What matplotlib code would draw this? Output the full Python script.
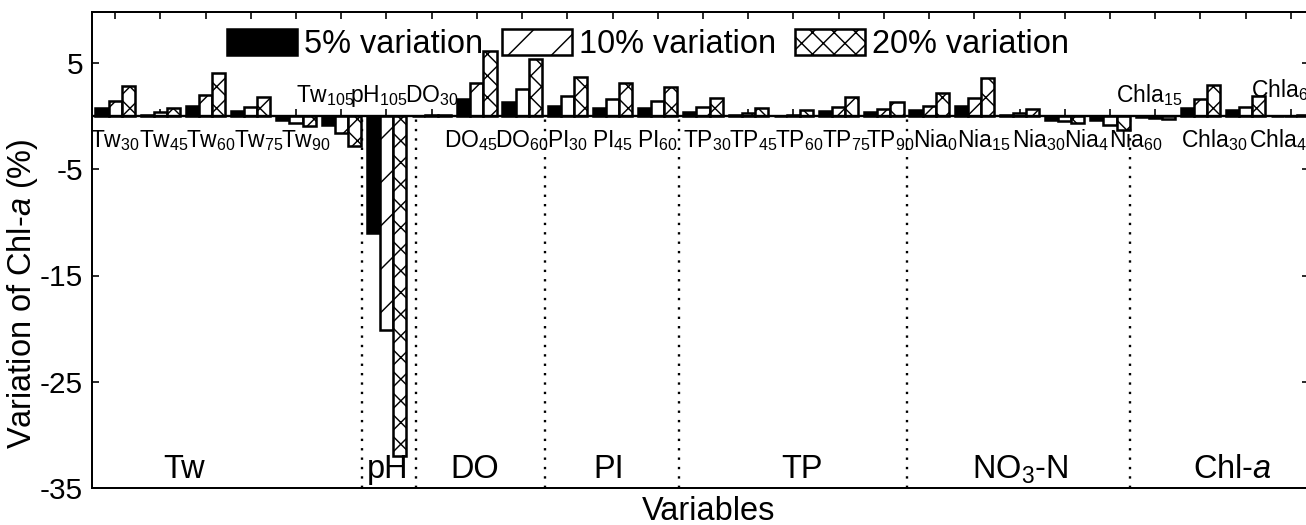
import numpy as np
import matplotlib.pyplot as plt

plt.rcParams['font.family'] = ['Liberation Sans', 'DejaVu Sans']
plt.rcParams['mathtext.fontset'] = 'custom'
plt.rcParams['mathtext.rm'] = 'Liberation Sans'
plt.rcParams['mathtext.it'] = 'Liberation Sans:italic'
plt.rcParams['axes.unicode_minus'] = False
plt.rcParams['hatch.linewidth'] = 0.8

# perturbed parameters (subscript = day of perturbation)
params = ["Tw$_{30}$", "Tw$_{45}$", "Tw$_{60}$", "Tw$_{75}$", "Tw$_{90}$", "Tw$_{105}$",
          "pH$_{105}$", "DO$_{30}$", "DO$_{45}$", "DO$_{60}$",
          "PI$_{30}$", "PI$_{45}$", "PI$_{60}$",
          "TP$_{30}$", "TP$_{45}$", "TP$_{60}$", "TP$_{75}$", "TP$_{90}$",
          "Nia$_{0}$", "Nia$_{15}$", "Nia$_{30}$", "Nia$_{4}$", "Nia$_{60}$",
          "Chla$_{15}$", "Chla$_{30}$", "Chla$_{45}$", "Chla$_{60}$"]

# variation of Chl-a (%) for 5 / 10 / 20 % parameter variation
var5 = [0.8, 0.15, 1.0, 0.45, -0.4, -0.85,
        -11.0, 0.05, 1.65, 1.3,
        0.95, 0.8, 0.8,
        0.4, 0.1, 0.05, 0.45, 0.35,
        0.6, 0.95, 0.1, -0.35, -0.4,
        -0.05, 0.8, 0.55, 0.05]
var10 = [1.4, 0.35, 2.0, 0.9, -0.65, -1.6,
         -20.1, 0.1, 3.1, 2.6,
         1.9, 1.6, 1.4,
         0.9, 0.25, 0.15, 0.9, 0.7,
         1.0, 1.75, 0.25, -0.5, -0.8,
         -0.15, 1.6, 0.9, 0.05]
var20 = [2.8, 0.75, 4.1, 1.8, -0.95, -2.8,
         -32.0, 0.15, 6.1, 5.4,
         3.7, 3.1, 2.75,
         1.7, 0.8, 0.6, 1.8, 1.3,
         2.2, 3.6, 0.65, -0.65, -1.35,
         -0.3, 2.9, 1.9, 0.1]

groups = ["Tw", "pH", "DO", "PI", "TP", "NO$_3$-N", "Chl-$a$"]

# layout
group_x = [1.52, 6.03, 7.96, 10.92, 15.18, 20.02, 24.71]
separators = [5.46, 6.65, 9.5, 12.46, 17.51, 22.45]
label_shift = [0, .09, .13, .18, .22, -.35, -.18, 0, -.13, 0, 0, 0, 0,
               .09, .11, .13, .17, .15, .15, .2, .42, .49, .57, -.13, .31, .8, -.15]
above = {5: 1.32, 6: 1.32, 7: 1.32, 23: 1.32, 26: 1.8}

x = np.arange(len(params))
W, H, DPI = 1306, 525, 130
fig = plt.figure(figsize=(W / DPI, H / DPI), dpi=DPI)
ax = fig.add_axes([92 / W, 1 - 488 / H, (1309 - 92) / W, (488 - 12) / H])

bw = 0.29
lw = 1.4
ax.bar(x - bw, var5, bw, color='black', edgecolor='black', linewidth=lw,
       label='5% variation', zorder=3)
ax.bar(x, var10, bw, color='white', edgecolor='black', linewidth=lw,
       hatch='/', label='10% variation', zorder=3)
ax.bar(x + bw, var20, bw, color='white', edgecolor='black', linewidth=lw,
       hatch='xx', label='20% variation', zorder=3)

# zero line with small upward ticks
ax.axhline(0, color='black', linewidth=1.3, zorder=4)
ax.plot(x, np.zeros(len(x)), ls='none', marker=2, ms=4, mew=0.9,
        color='black', zorder=2)

ax.vlines(separators, -35, 0, colors='black', linestyles=(0, (1, 3)),
          linewidth=1.3, zorder=1)

for i, lab in enumerate(params):
    y = above.get(i, -2.92)
    ax.text(i + label_shift[i], y, lab, ha='center', va='baseline',
            fontsize=12.7, zorder=5)

for gx, g in zip(group_x, groups):
    ax.text(gx, -34.1, g, ha='center', va='baseline', fontsize=18)

ax.set_xlim(-0.51, 26.4)
ax.set_ylim(-35, 9.8)
ax.set_yticks([5, -5, -15, -25, -35])
ax.set_xticks(x)
ax.xaxis.set_ticks_position('top')
ax.tick_params(axis='x', direction='in', length=4, width=0.9, labeltop=False,
               labelbottom=False)
ax.tick_params(axis='y', direction='in', length=4, width=0.9, right=True,
               labelsize=16.5, pad=5)
for s in ax.spines.values():
    s.set_linewidth(1.1)

ax.legend(loc='center', bbox_to_anchor=(0.457, 0.932), ncol=3, frameon=False,
          fontsize=18, handlelength=2.15, handleheight=0.86,
          handletextpad=0.2, columnspacing=0.6, borderaxespad=0)

fig.text(23 / W, 1 - 294 / H, "Variation of Chl-$a$ (%)", rotation=90,
         ha='center', va='center', fontsize=18)
fig.text(709 / W, 1 - 511 / H, "Variables", ha='center', va='center',
         fontsize=18)

fig.savefig('out.png', dpi=DPI)
